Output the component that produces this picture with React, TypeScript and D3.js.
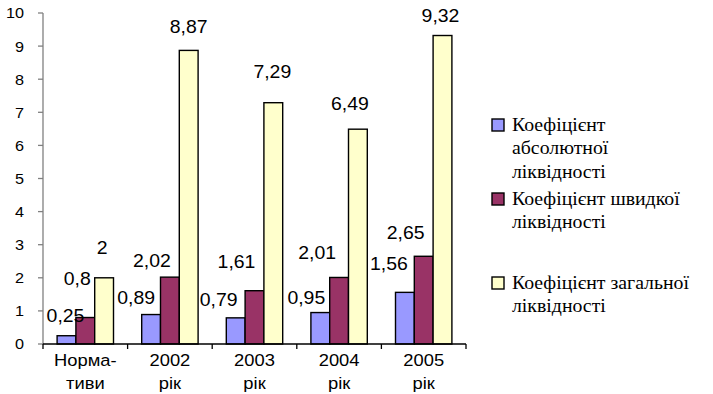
import * as d3 from "d3";

const categories = [["Норма-", "тиви"], ["2002", "рік"], ["2003", "рік"], ["2004", "рік"], ["2005", "рік"]];
const seriesNames = [
  ["Коефіцієнт", "абсолютної", "ліквідності"],
  ["Коефіцієнт швидкої", "ліквідності"],
  ["Коефіцієнт загальної", "ліквідності"],
];
const absoluteRatio = [0.25, 0.89, 0.79, 0.95, 1.56];
const quickRatio = [0.8, 2.02, 1.61, 2.01, 2.65];
const currentRatio = [2, 8.87, 7.29, 6.49, 9.32];
const yTicks = [0, 1, 2, 3, 4, 5, 6, 7, 8, 9, 10];

const colors = ["#9999ff", "#993366", "#ffffcc"];

// hand-placed data label nudges [dx, dy] from bar centre / bar top, per series then category
const labelNudge = [
  [[-1, -20], [-15, -17], [-17, -18], [-14, -15], [-16, -29]],
  [[-8, -39], [-18, -17], [-18, -29], [-22, -25], [-18, -24]],
  [[-2, -30], [0, -24], [-1, -31], [-8, -26], [-2, -20]],
];

const fmt = (v: number) => String(v).replace(".", ",");

const STRETCH = 1.08;

function Label(props: any) {
  const { x, y, size, anchor, children } = props;
  return (
    <text
      transform={`translate(${x},${y}) scale(${STRETCH},1)`}
      dy="0.36em"
      textAnchor={anchor ?? "middle"}
      fontSize={size}
      fill="#000"
    >
      {children}
    </text>
  );
}

export default function App() {
  const width = 713;
  const height = 394;
  const left = 43;
  const right = 466;
  const top = 13;
  const bottom = 344;

  const series = [absoluteRatio, quickRatio, currentRatio];
  const x = d3.scaleBand<number>().domain(d3.range(categories.length)).range([left, right]);
  const xs = d3
    .scaleBand<number>()
    .domain(d3.range(series.length))
    .range([0, x.bandwidth()])
    .paddingInner(0)
    .paddingOuter(0.75);
  const y = d3.scaleLinear().domain([0, 10]).range([bottom, top]);

  return (
    <svg width={width} height={height} style={{ position: "absolute", left: 0, top: 0, background: "#fff" }}>
      <g fontFamily="Liberation Sans">
        {/* bars */}
        {series.map((vals, si) =>
          vals.map((v, ci) => (
            <rect
              key={`b${si}-${ci}`}
              x={(x(ci) as number) + (xs(si) as number)}
              y={y(v)}
              width={xs.bandwidth()}
              height={y(0) - y(v)}
              fill={colors[si]}
              stroke="#000"
              strokeWidth={1.4}
            />
          ))
        )}

        {/* y axis */}
        <line x1={left} x2={left} y1={top} y2={bottom} stroke="#808080" strokeWidth={1.3} />
        {yTicks.map((t) => (
          <g key={`yt${t}`}>
            <line x1={left - 5} x2={left} y1={y(t)} y2={y(t)} stroke="#808080" strokeWidth={1.3} />
            <Label x={left - 19} y={y(t)} size={15} anchor="end">
              {t}
            </Label>
          </g>
        ))}

        {/* x axis */}
        <line x1={left} x2={right} y1={bottom} y2={bottom} stroke="#000" strokeWidth={1.3} />
        {d3.range(categories.length + 1).map((i) => {
          const xp = i < categories.length ? (x(i) as number) : right;
          return <line key={`xt${i}`} x1={xp} x2={xp} y1={bottom} y2={bottom + 5} stroke="#000" strokeWidth={1.3} />;
        })}
        {categories.map((lines, ci) =>
          lines.map((l, li) => (
            <Label key={`xl${ci}-${li}`} x={(x(ci) as number) + x.bandwidth() / 2} y={360 + li * 23} size={17}>
              {l}
            </Label>
          ))
        )}

        {/* data labels */}
        {series.map((vals, si) =>
          vals.map((v, ci) => (
            <Label
              key={`l${si}-${ci}`}
              x={(x(ci) as number) + (xs(si) as number) + xs.bandwidth() / 2 + labelNudge[si][ci][0]}
              y={y(v) + labelNudge[si][ci][1]}
              size={18}
            >
              {fmt(v)}
            </Label>
          ))
        )}
      </g>

      {/* legend */}
      <g fontFamily="Liberation Serif, DejaVu Serif, serif">
        {seriesNames.map((lines, si) => {
          const ly = [125, 199, 283][si];
          return (
            <g key={`lg${si}`}>
              <rect x={492} y={ly - 6} width={12} height={12} fill={colors[si]} stroke="#000" strokeWidth={1.4} />
              <text transform={`translate(512,0) scale(1.1,1)`} fontSize={18} fill="#000">
                {lines.map((l, li) => (
                  <tspan key={li} x={0} y={ly + li * 23.5 + 6}>
                    {l}
                  </tspan>
                ))}
              </text>
            </g>
          );
        })}
      </g>
    </svg>
  );
}
